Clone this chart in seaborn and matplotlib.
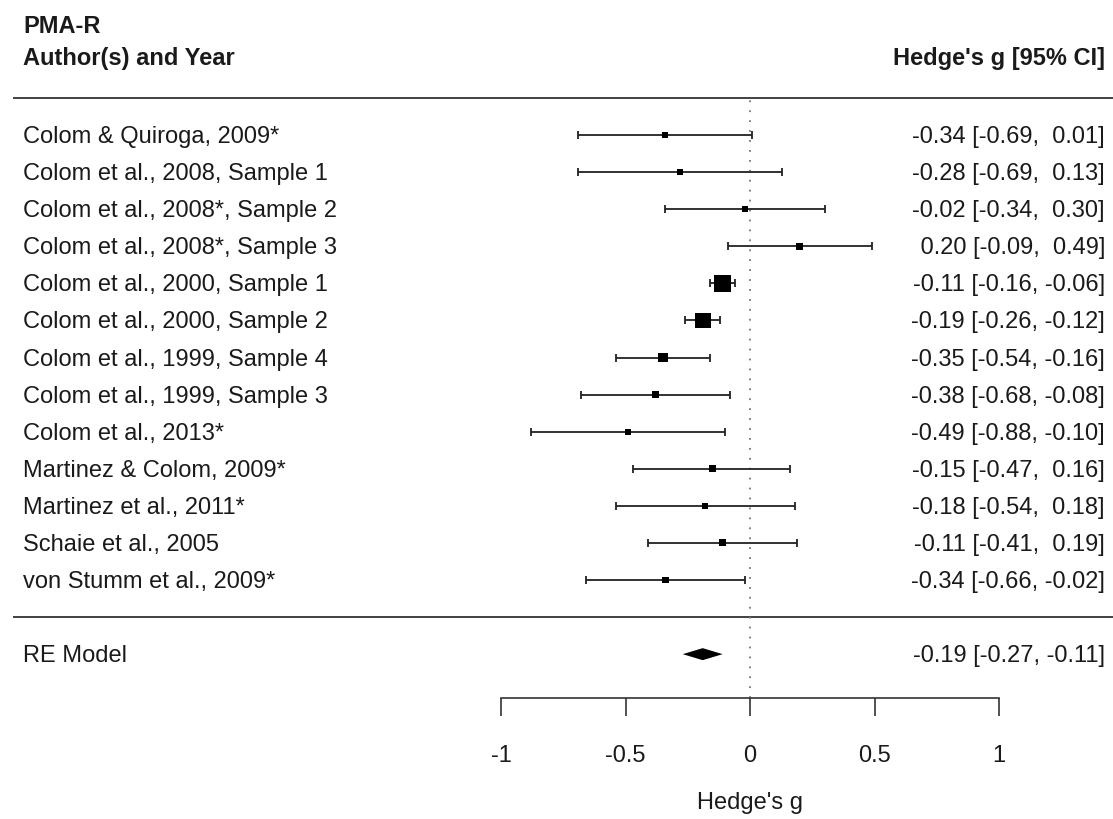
import numpy as np
import pandas as pd
import matplotlib.pyplot as plt
import seaborn as sns

# Study data (PMA-R)
studies = [
    "Colom & Quiroga, 2009*",
    "Colom et al., 2008, Sample 1",
    "Colom et al., 2008*, Sample 2",
    "Colom et al., 2008*, Sample 3",
    "Colom et al., 2000, Sample 1",
    "Colom et al., 2000, Sample 2",
    "Colom et al., 1999, Sample 4",
    "Colom et al., 1999, Sample 3",
    "Colom et al., 2013*",
    "Martinez & Colom, 2009*",
    "Martinez et al., 2011*",
    "Schaie et al., 2005",
    "von Stumm et al., 2009*",
]
hedges_g = [-0.34, -0.28, -0.02, 0.20, -0.11, -0.19, -0.35, -0.38, -0.49, -0.15, -0.18, -0.11, -0.34]
ci_low = [-0.69, -0.69, -0.34, -0.09, -0.16, -0.26, -0.54, -0.68, -0.88, -0.47, -0.54, -0.41, -0.66]
ci_high = [0.01, 0.13, 0.30, 0.49, -0.06, -0.12, -0.16, -0.08, -0.10, 0.16, 0.18, 0.19, -0.02]
re_model = [-0.19, -0.27, -0.11]  # estimate, lower, upper
x_ticks = [-1, -0.5, 0, 0.5, 1]
x_tick_labels = ["-1", "-0.5", "0", "0.5", "1"]

sns.set_theme(style="white")
plt.rcParams["font.family"] = ["Liberation Sans", "DejaVu Sans"]
plt.rcParams["axes.unicode_minus"] = False

FS = 17
TXT = "#1a1a1a"
LINE = "#333333"

k = len(studies)
df = pd.DataFrame({
    "study": studies,
    "g": hedges_g,
    "lo": ci_low,
    "hi": ci_high,
    "row": np.arange(k, 0, -1),
})

# random-effects weights (DerSimonian-Laird) -> box sizes, like metafor
se = (df["hi"] - df["lo"]) / (2 * 1.96)
v = se ** 2
w_fe = 1 / v
ybar = np.sum(w_fe * df["g"]) / np.sum(w_fe)
Q = np.sum(w_fe * (df["g"] - ybar) ** 2)
tau2 = max(0.0, (Q - (k - 1)) / (w_fe.sum() - (w_fe ** 2).sum() / w_fe.sum()))
w = 1 / (v + tau2)
cex = 0.5 + (w - w.min()) / (w.max() - w.min())
df["area"] = (11.3 * cex * 0.72) ** 2

# pixel-based layout: 249 px per unit in x, 37.08 px per row in y
px_x = 249.0
px_y = 37.08
W, H = 1113, 819
axis_px = 698

fig = plt.figure(figsize=(W / 100, H / 100), dpi=100)
ax = fig.add_axes([0, 1 - axis_px / H, 1, axis_px / H])
x_left, x_right = -750 / px_x, (W - 750) / px_x
y_bot = 1 - (axis_px - 580) / px_y
y_top = y_bot + axis_px / px_y
ax.set_xlim(x_left, x_right)
ax.set_ylim(y_bot, y_top)

# separators and reference line
x_line0 = x_left + 13 / px_x
ax.hlines([k + 1, 0], x_line0, x_right, color=LINE, lw=1.3)
ax.vlines(0, y_bot, k + 1, color="#777777", lw=1.3, linestyles=(0, (1, 4.5)))

# confidence intervals
ax.errorbar(df["g"], df["row"], xerr=[df["g"] - df["lo"], df["hi"] - df["g"]],
            fmt="none", ecolor="#222222", elinewidth=1.3, capsize=3, capthick=1.3,
            zorder=3)

# study boxes
sns.scatterplot(data=df, x="g", y="row", size="area",
                sizes=(df["area"].min(), df["area"].max()),
                size_norm=(df["area"].min(), df["area"].max()),
                marker="s", color="black", linewidth=0, legend=False,
                ax=ax, zorder=4)

# summary diamond
est, lo, hi = re_model
hh = 6 / px_y
ax.fill([lo, est, hi, est], [-1, -1 + hh, -1, -1 - hh], color="black", lw=0, zorder=4)

# text columns
x_txt_l = x_left + 23 / px_x
x_txt_r = x_left + 1105 / px_x
off = 8 / px_y
for _, r in df.iterrows():
    ax.text(x_txt_l, r["row"] - off, r["study"], ha="left", va="baseline",
            fontsize=FS, color=TXT)
    ax.text(x_txt_r, r["row"] - off, f"{r['g']:5.2f} [{r['lo']:5.2f}, {r['hi']:5.2f}]",
            ha="right", va="baseline", fontsize=FS, color=TXT)
ax.text(x_txt_l, -1 - off, "RE Model", ha="left", va="baseline", fontsize=FS, color=TXT)
ax.text(x_txt_r, -1 - off, f"{est:5.2f} [{lo:5.2f}, {hi:5.2f}]",
        ha="right", va="baseline", fontsize=FS, color=TXT)

# headers
ax.text(x_txt_l, 15.75, "PMA-R", ha="left", va="baseline", fontsize=FS,
        fontweight="bold", color=TXT)
ax.text(x_txt_l, 14.9, "Author(s) and Year", ha="left", va="baseline", fontsize=FS,
        fontweight="bold", color=TXT)
ax.text(x_txt_r, 14.9, "Hedge's g [95% CI]", ha="right", va="baseline", fontsize=FS,
        fontweight="bold", color=TXT)

# x axis
for side in ["left", "right", "top"]:
    ax.spines[side].set_visible(False)
ax.spines["bottom"].set_bounds(-1, 1)
ax.spines["bottom"].set_color(LINE)
ax.spines["bottom"].set_linewidth(1.2)
ax.set_yticks([])
ax.set_xticks(x_ticks)
ax.set_xticklabels(x_tick_labels)
ax.tick_params(axis="x", direction="out", length=13, width=1.2, color=LINE,
               pad=20.5, labelsize=FS, labelcolor=TXT, bottom=True)
ax.set_xlabel("Hedge's g", fontsize=FS, color=TXT, labelpad=18.5,
              x=750 / W)
ax.set_ylabel("")
ax.grid(False)

fig.savefig("out.png", dpi=100)
